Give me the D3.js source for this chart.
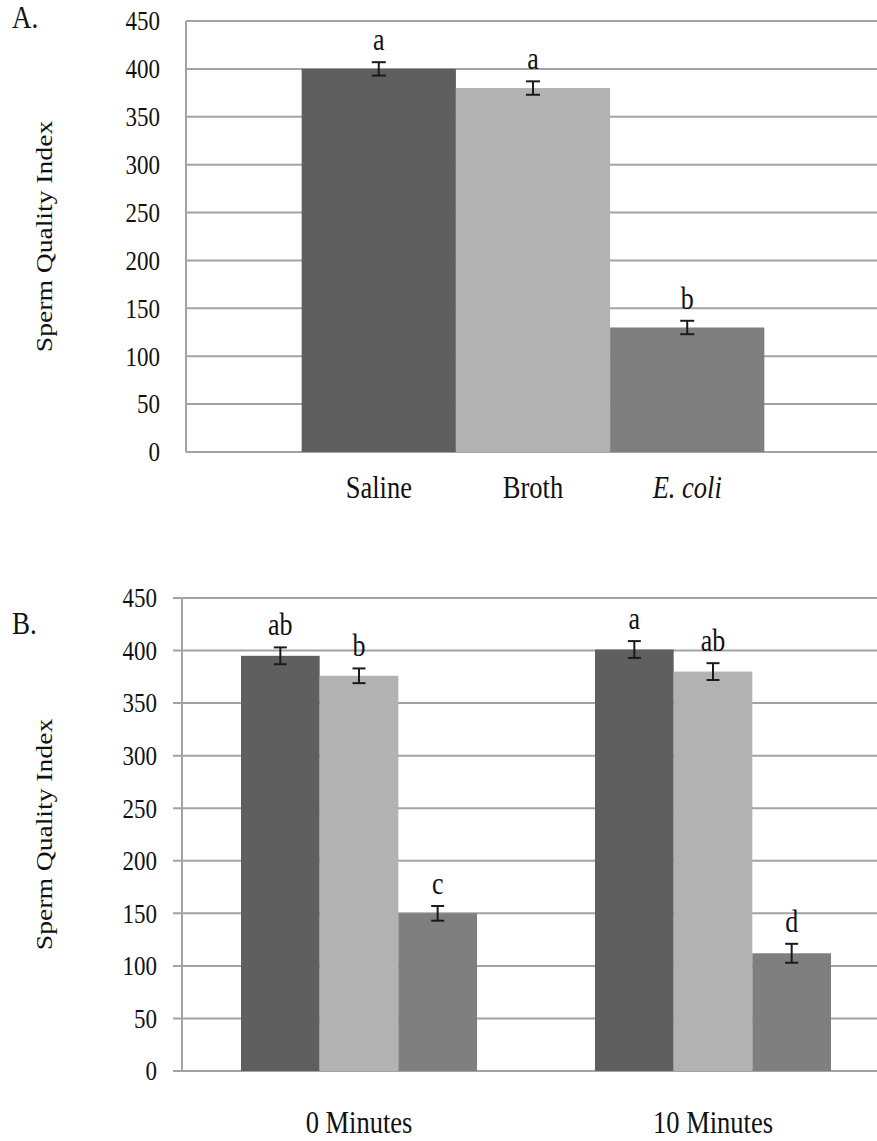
<!DOCTYPE html>
<html>
<head>
<meta charset="utf-8">
<script src="https://cdn.jsdelivr.net/npm/d3@7"></script>
<style>
  body { margin: 0; background: #fff; }
  text { font-family: "Liberation Serif", "Times New Roman", serif; fill: #111; }
</style>
</head>
<body>
<svg id="chart" width="877" height="1141"></svg>
<script>
// ---- data ----
const treatments = ['Saline', 'Broth', 'E. coli'];
const treatmentColours = ['#5f5f5f', '#b2b2b2', '#7f7f7f'];
const yTicks = [0, 50, 100, 150, 200, 250, 300, 350, 400, 450];

// panel A: one group, one bar per treatment
const panelAValues = [400, 380, 130];
const panelAErrors = [7, 7, 7];
const panelALetters = ['a', 'a', 'b'];

// panel B: two incubation times, three treatments each
const panelBGroups = ['0 Minutes', '10 Minutes'];
const panelBValues = [[395, 376, 150], [401, 380, 112]];
const panelBErrors = [[8, 7, 7], [8, 8, 9]];
const panelBLetters = [['ab', 'b', 'c'], ['a', 'ab', 'd']];

const svg = d3.select('#chart');
svg.append('rect').attr('width', 877).attr('height', 1141).attr('fill', '#fff');

const stretch = 'scale(1,1.2)'; // the source picture is a bit taller than wide

const drawPanel = (parent, props) => {
  const {
    groups, values, errors, letters,
    left, right, top, bottom, tickLen, tickPad, capWidth,
    labelUnderBars, labelY, panelName, panelY, titleX
  } = props;

  const y = d3.scaleLinear().domain([0, 450]).range([bottom, top]);
  const x0 = d3.scaleBand().domain(groups).range([left, right])
    .paddingInner(1 / 3).paddingOuter(1 / 6);
  const x1 = d3.scaleBand().domain(treatments).range([0, x0.bandwidth()]);

  // gridlines (they run off the right edge of the picture)
  parent.selectAll('line.grid')
    .data(yTicks)
    .join('line')
    .attr('class', 'grid')
    .attr('x1', left - tickLen)
    .attr('x2', 877)
    .attr('y1', d => y(d))
    .attr('y2', d => y(d))
    .attr('stroke', '#a3a3a3')
    .attr('stroke-width', 2);

  // left axis line
  parent.append('line')
    .attr('x1', left).attr('x2', left)
    .attr('y1', y(450)).attr('y2', y(0))
    .attr('stroke', '#a3a3a3')
    .attr('stroke-width', 2);

  // tick labels
  const yAxis = parent.append('g')
    .attr('transform', `translate(${left},0)`)
    .call(d3.axisLeft(y).tickValues(yTicks).tickSize(tickLen).tickPadding(tickPad));
  yAxis.select('.domain').remove();
  yAxis.selectAll('.tick line').remove();
  yAxis.selectAll('.tick text')
    .attr('font-size', 23)
    .attr('font-family', '"Liberation Serif", "Times New Roman", serif')
    .attr('fill', '#111')
    .attr('transform', stretch);

  // bars
  const rows = [];
  groups.forEach((g, gi) => {
    treatments.forEach((t, ti) => {
      rows.push({
        group: g, treatment: t, ti,
        value: values[gi][ti], err: errors[gi][ti], letter: letters[gi][ti]
      });
    });
  });

  parent.selectAll('rect.bar')
    .data(rows)
    .join('rect')
    .attr('class', 'bar')
    .attr('x', d => x0(d.group) + x1(d.treatment))
    .attr('width', x1.bandwidth())
    .attr('y', d => y(d.value))
    .attr('height', d => y(0) - y(d.value))
    .attr('fill', d => treatmentColours[d.ti]);

  // error bars
  const errG = parent.selectAll('g.err')
    .data(rows)
    .join('g')
    .attr('class', 'err')
    .attr('transform', d => `translate(${x0(d.group) + x1(d.treatment) + x1.bandwidth() / 2},0)`)
    .attr('stroke', '#1a1a1a')
    .attr('stroke-width', 2);
  errG.append('line')
    .attr('y1', d => y(d.value + d.err))
    .attr('y2', d => y(d.value - d.err));
  errG.append('line')
    .attr('x1', -capWidth / 2).attr('x2', capWidth / 2)
    .attr('y1', d => y(d.value + d.err)).attr('y2', d => y(d.value + d.err));
  errG.append('line')
    .attr('x1', -capWidth / 2).attr('x2', capWidth / 2)
    .attr('y1', d => y(d.value - d.err)).attr('y2', d => y(d.value - d.err));

  // significance letters
  parent.selectAll('text.letter')
    .data(rows)
    .join('text')
    .attr('class', 'letter')
    .attr('transform', d => `translate(${x0(d.group) + x1(d.treatment) + x1.bandwidth() / 2},${y(d.value + d.err) - 12}) ${stretch}`)
    .attr('text-anchor', 'middle')
    .attr('font-size', 26)
    .text(d => d.letter);

  // category labels
  if (labelUnderBars) {
    parent.selectAll('text.cat')
      .data(rows)
      .join('text')
      .attr('class', 'cat')
      .attr('transform', d => `translate(${x0(d.group) + x1(d.treatment) + x1.bandwidth() / 2},${labelY}) ${stretch}`)
      .attr('text-anchor', 'middle')
      .attr('font-size', 26.5)
      .attr('font-style', d => d.treatment === 'E. coli' ? 'italic' : 'normal')
      .text(d => d.treatment);
  } else {
    parent.selectAll('text.cat')
      .data(groups)
      .join('text')
      .attr('class', 'cat')
      .attr('transform', d => `translate(${x0(d) + x0.bandwidth() / 2},${labelY}) ${stretch}`)
      .attr('text-anchor', 'middle')
      .attr('font-size', 26.5)
      .text(d => d);
  }

  // y title
  parent.append('text')
    .attr('transform', `translate(${titleX},${(top + bottom) / 2}) rotate(-90) scale(1.2,1)`)
    .attr('text-anchor', 'middle')
    .attr('font-size', 23)
    .text('Sperm Quality Index');

  // panel letter
  parent.append('text')
    .attr('transform', `translate(12,${panelY}) ${stretch}`)
    .attr('font-size', 27)
    .text(panelName);
};

drawPanel(svg.append('g'), {
  groups: ['all'],
  values: [panelAValues],
  errors: [panelAErrors],
  letters: [panelALetters],
  left: 186, right: 880, top: 21, bottom: 452,
  tickLen: 0, tickPad: 26, capWidth: 14,
  labelUnderBars: true, labelY: 498,
  panelName: 'A.', panelY: 28, titleX: 52
});

drawPanel(svg.append('g'), {
  groups: panelBGroups,
  values: panelBValues,
  errors: panelBErrors,
  letters: panelBLetters,
  left: 182, right: 890, top: 598, bottom: 1071,
  tickLen: 9, tickPad: 16, capWidth: 13,
  labelUnderBars: false, labelY: 1133,
  panelName: 'B.', panelY: 634, titleX: 52
});
</script>
</body>
</html>
